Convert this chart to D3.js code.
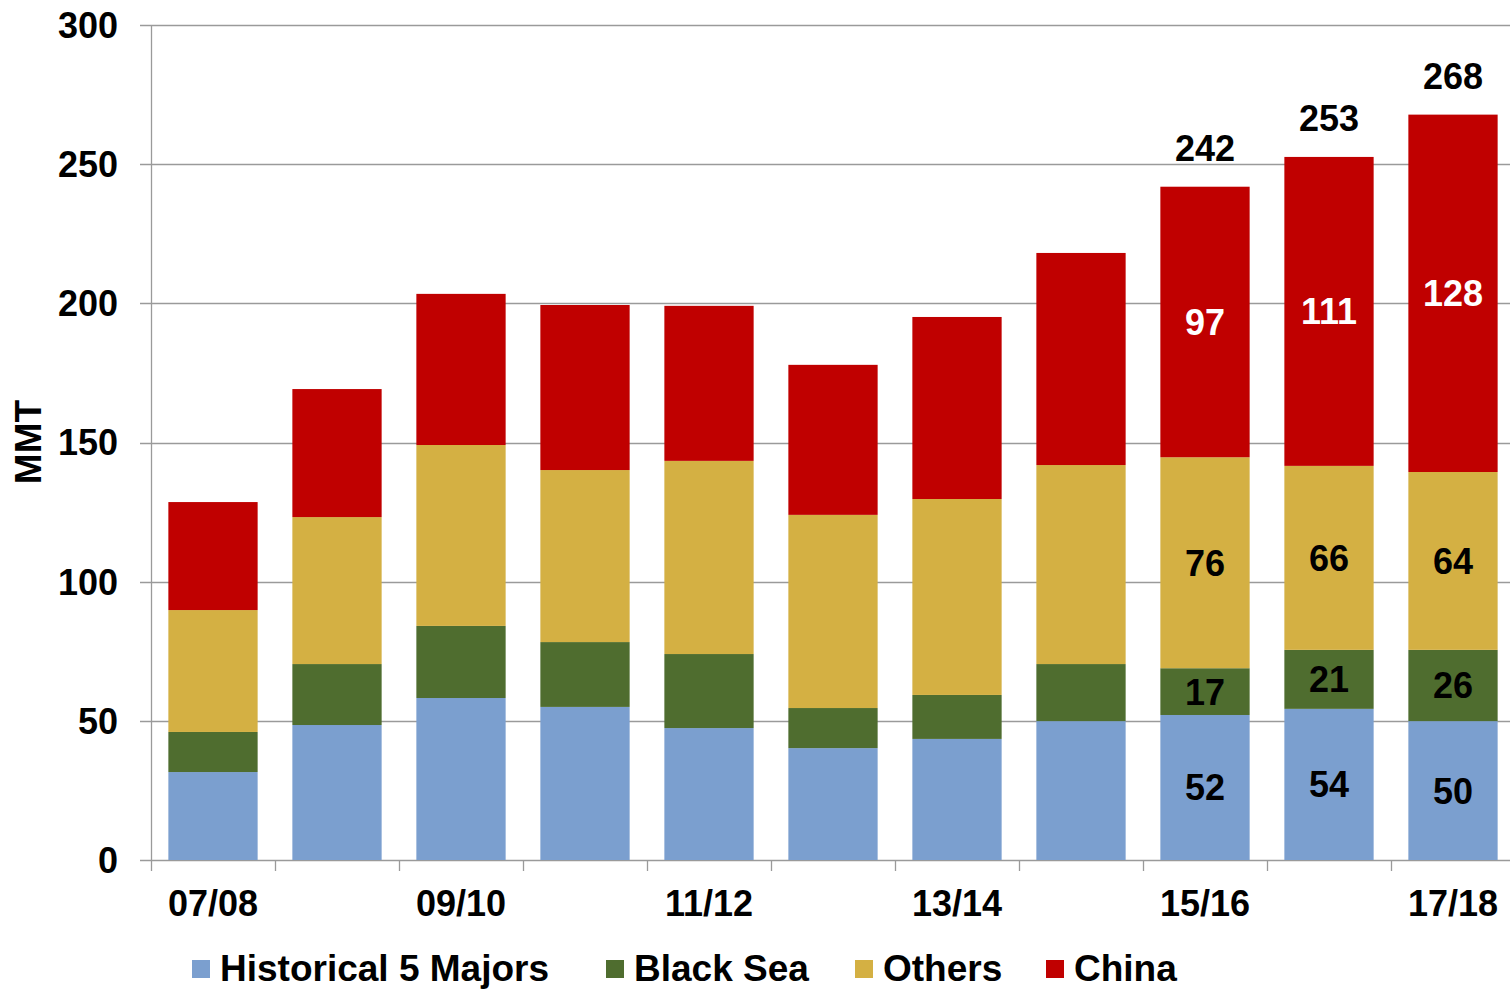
<!DOCTYPE html>
<html>
<head>
<meta charset="utf-8">
<script src="https://cdn.jsdelivr.net/npm/d3@7"></script>
<style>
  body { margin: 0; background: #fff; }
  text { font-family: "Liberation Sans", Arial, sans-serif; font-weight: bold; }
</style>
</head>
<body>
<div id="chart"></div>
<script>
// marketing years
const years = ["07/08", "08/09", "09/10", "10/11", "11/12", "12/13", "13/14", "14/15", "15/16", "16/17", "17/18"];
const tickYears = ["07/08", "09/10", "11/12", "13/14", "15/16", "17/18"];

// series values (MMT)
const historical = [31.6, 48.5, 58.2, 55.0, 47.4, 40.2, 43.5, 49.9, 52.1, 54.3, 49.9];
const blackSea   = [14.4, 21.9, 25.9, 23.3, 26.6, 14.4, 15.8, 20.5, 16.8, 21.2, 25.6];
const others     = [43.8, 52.8, 65.0, 61.8, 69.4, 69.4, 70.4, 71.5, 75.8, 66.1, 63.9];
const china      = [38.8, 46.0, 54.3, 59.3, 55.7, 53.9, 65.4, 76.2, 97.2, 111.0, 128.4];

const seriesKeys = ["hist", "black", "others", "china"];
const seriesNames = ["Historical 5 Majors", "Black Sea", "Others", "China"];
const labeledYears = ["15/16", "16/17", "17/18"];
const yTicks = [0, 50, 100, 150, 200, 250, 300];

const rows = years.map((y, i) => ({
    year: y, hist: historical[i], black: blackSea[i], others: others[i], china: china[i]
}));

const W = 1510, H = 989;
const margin = {top: 25, left: 151, bottom: 129};

const svg = d3.select("#chart").append("svg")
    .attr("width", W).attr("height", H);

const x = d3.scaleBand()
    .domain(years)
    .range([margin.left, margin.left + 124 * years.length])
    .paddingInner(0.28)
    .paddingOuter(0.14);

const y = d3.scaleLinear()
    .domain([0, 300])
    .range([H - margin.bottom, margin.top]);

const color = d3.scaleOrdinal()
    .domain(seriesKeys)
    .range(["#7b9fcf", "#4f6d2f", "#d4b043", "#c00000"]);

//gridlines
svg.append("g")
    .selectAll("line")
    .data(yTicks)
    .enter().append("line")
    .attr("x1", margin.left - 11)
    .attr("x2", W)
    .attr("y1", d => Math.round(y(d)) + 0.5)
    .attr("y2", d => Math.round(y(d)) + 0.5)
    .attr("stroke", "#9a9a9a")
    .attr("stroke-width", 1.3);

//y tick labels
svg.append("g")
    .selectAll("text")
    .data(yTicks)
    .enter().append("text")
    .attr("x", 118)
    .attr("y", d => y(d))
    .attr("dy", "0.36em")
    .attr("text-anchor", "end")
    .attr("font-size", "36px")
    .text(d => d);

//y axis title
svg.append("text")
    .attr("transform", `translate(41, 442) rotate(-90)`)
    .attr("text-anchor", "middle")
    .attr("font-size", "37px")
    .text("MMT");

//stacked bars
const stack = d3.stack().keys(seriesKeys)(rows);

svg.append("g")
    .selectAll("g")
    .data(stack)
    .enter().append("g")
    .attr("fill", d => color(d.key))
    .selectAll("rect")
    .data(d => d)
    .enter().append("rect")
    .attr("x", d => x(d.data.year))
    .attr("y", d => y(d[1]))
    .attr("height", d => y(d[0]) - y(d[1]))
    .attr("width", x.bandwidth());

//axis lines + ticks
const axisG = svg.append("g").attr("stroke", "#9a9a9a").attr("stroke-width", 1.3);
axisG.append("line")
    .attr("x1", margin.left + 0.5).attr("x2", margin.left + 0.5)
    .attr("y1", y(300)).attr("y2", y(0) + 11);
axisG.selectAll(".xt")
    .data(years)
    .enter().append("line")
    .attr("x1", (d, i) => Math.round(margin.left + x.step() * (i + 1)) + 0.5)
    .attr("x2", (d, i) => Math.round(margin.left + x.step() * (i + 1)) + 0.5)
    .attr("y1", y(0)).attr("y2", y(0) + 11);

//x labels
svg.append("g")
    .selectAll("text")
    .data(tickYears)
    .enter().append("text")
    .attr("x", d => x(d) + x.bandwidth() / 2)
    .attr("y", 916)
    .attr("text-anchor", "middle")
    .attr("font-size", "36px")
    .text(d => d);

//segment labels for last three years
const labelData = [];
stack.forEach(s => {
    s.forEach(d => {
        if (labeledYears.includes(d.data.year)) {
            labelData.push({key: s.key, year: d.data.year, lo: d[0], hi: d[1], v: d.data[s.key]});
        }
    });
});

svg.append("g")
    .selectAll("text")
    .data(labelData)
    .enter().append("text")
    .attr("x", d => x(d.year) + x.bandwidth() / 2)
    .attr("y", d => y((d.lo + d.hi) / 2))
    .attr("dy", "0.36em")
    .attr("text-anchor", "middle")
    .attr("font-size", "36px")
    .attr("fill", d => d.key === "china" ? "#fff" : "#000")
    .text(d => Math.round(d.v));

//totals on top
svg.append("g")
    .selectAll("text")
    .data(rows.filter(r => labeledYears.includes(r.year)))
    .enter().append("text")
    .attr("x", d => x(d.year) + x.bandwidth() / 2)
    .attr("y", d => y(d.hist + d.black + d.others + d.china) - 39)
    .attr("dy", "0.36em")
    .attr("text-anchor", "middle")
    .attr("font-size", "36px")
    .text(d => Math.round(d.hist + d.black + d.others + d.china));

//legend
const legendX = [192, 606, 855, 1046];
const legend = svg.append("g");
seriesKeys.forEach((k, i) => {
    legend.append("rect")
        .attr("x", legendX[i])
        .attr("y", 960)
        .attr("width", 18)
        .attr("height", 18)
        .attr("fill", color(k));
    legend.append("text")
        .attr("x", legendX[i] + 28)
        .attr("y", 981)
        .attr("font-size", "37px")
        .text(seriesNames[i]);
});
</script>
</body>
</html>
